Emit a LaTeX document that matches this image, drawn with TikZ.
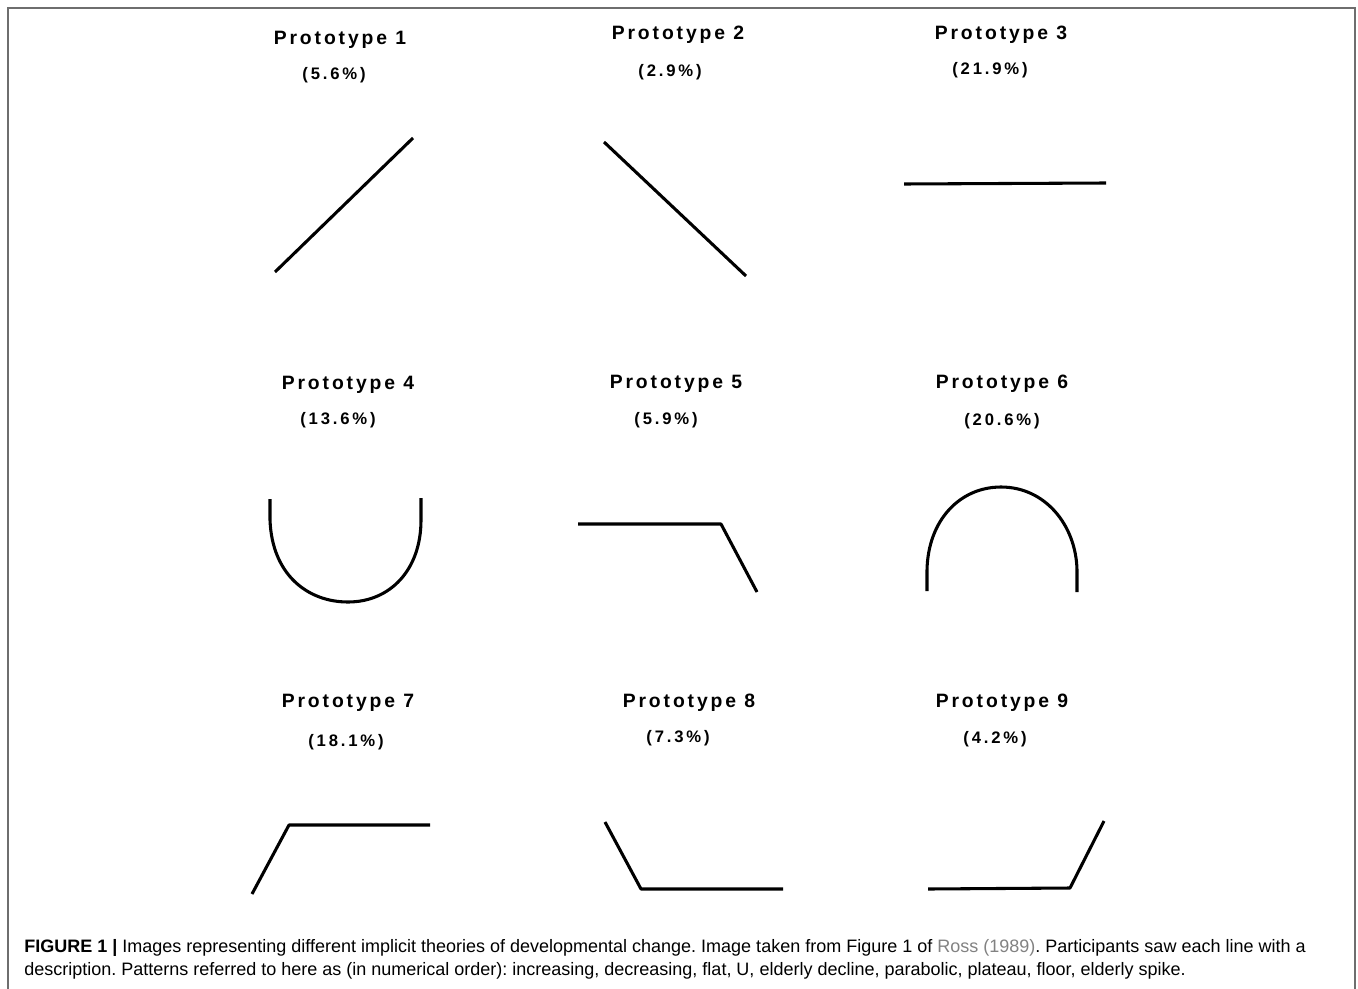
\documentclass[tikz,border=0pt]{standalone}
\usepackage{fontspec}
\setmainfont{Liberation Sans}
\newfontfamily\protofont[LetterSpace=15]{Liberation Sans}
\newfontfamily\percfont[LetterSpace=17]{Liberation Sans}
\definecolor{framegray}{RGB}{110,110,110}
\definecolor{linkgray}{RGB}{130,130,130}
\frenchspacing
\begin{document}
\begin{tikzpicture}[x=0.75pt,y=-0.75pt,
  curve/.style={line width=2.3pt,black,line join=round},
  ptitle/.style={font=\protofont\bfseries\fontsize{14.5}{16}\selectfont,inner sep=0pt},
  pperc/.style={font=\percfont\bfseries\fontsize{12.5}{14}\selectfont,inner sep=0pt},
  caption/.style={font=\fontsize{13.5}{15}\selectfont,anchor=base west,inner sep=0pt}]
\useasboundingbox (0,0) rectangle (1358,988);
\fill[white] (0,0) rectangle (1358,988);
\draw[framegray,line width=1pt] (8,990) -- (8,8) -- (1355,8) -- (1355,990);

% Row 1
\node[ptitle] (t1) at (340,40) {Prototype 1};
\node[pperc]  (p1) at (334,75) {(5.6\%)};
\coordinate (a1) at (275,272);
\coordinate (b1) at (413,138);
\draw[curve] (a1) -- (b1);

\node[ptitle] (t2) at (678,35) {Prototype 2};
\node[pperc]  (p2) at (670,72) {(2.9\%)};
\coordinate (a2) at (604,142);
\coordinate (b2) at (746,276);
\draw[curve] (a2) -- (b2);

\node[ptitle] (t3) at (1001,35) {Prototype 3};
\node[pperc]  (p3) at (990,70) {(21.9\%)};
\coordinate (a3) at (904,184);
\coordinate (b3) at (1106,183);
\draw[curve] (a3) -- (b3);

% Row 2
\node[ptitle] (t4) at (348,385) {Prototype 4};
\node[pperc]  (p4) at (338,420) {(13.6\%)};
\coordinate (a4) at (270,499);
\coordinate (b4) at (348,602);
\coordinate (c4) at (421,498);
\draw[curve] (a4) -- (270,520) .. controls (272,575) and (308,602) .. (b4)
  .. controls (390,602) and (421,570) .. (421,520) -- (c4);

\node[ptitle] (t5) at (676,384) {Prototype 5};
\node[pperc]  (p5) at (666,420) {(5.9\%)};
\coordinate (a5) at (578,524);
\coordinate (b5) at (721,524);
\coordinate (c5) at (757,592);
\draw[curve] (a5) -- (b5) -- (c5);

\node[ptitle] (t6) at (1002,384) {Prototype 6};
\node[pperc]  (p6) at (1002,421) {(20.6\%)};
\coordinate (a6) at (927,591);
\coordinate (b6) at (1001,487);
\coordinate (c6) at (1077,592);
\draw[curve] (a6) -- (927,570) .. controls (928,520) and (960,487) .. (b6)
  .. controls (1045,487) and (1076,525) .. (1077,570) -- (c6);

% Row 3
\node[ptitle] (t7) at (348,703) {Prototype 7};
\node[pperc]  (p7) at (346,742) {(18.1\%)};
\coordinate (a7) at (252,894);
\coordinate (b7) at (289,825);
\coordinate (c7) at (430,825);
\draw[curve] (a7) -- (b7) -- (c7);

\node[ptitle] (t8) at (689,703) {Prototype 8};
\node[pperc]  (p8) at (678,738) {(7.3\%)};
\coordinate (a8) at (605,822);
\coordinate (b8) at (641,889);
\coordinate (c8) at (783,889);
\draw[curve] (a8) -- (b8) -- (c8);

\node[ptitle] (t9) at (1002,703) {Prototype 9};
\node[pperc]  (p9) at (995,739) {(4.2\%)};
\coordinate (a9) at (928,889);
\coordinate (b9) at (1070,888);
\coordinate (c9) at (1104,821);
\draw[curve] (a9) -- (b9) -- (c9);

% Caption
\node[caption] (cap1) at (24,952) {\textbf{FIGURE 1 |} Images representing different implicit theories of developmental change. Image taken from Figure 1 of \textcolor{linkgray}{Ross (1989)}. Participants saw each line with a};
\node[caption] (cap2) at (24,975) {description. Patterns referred to here as (in numerical order): increasing, decreasing, flat, U, elderly decline, parabolic, plateau, floor, elderly spike.};
\end{tikzpicture}
\end{document}
